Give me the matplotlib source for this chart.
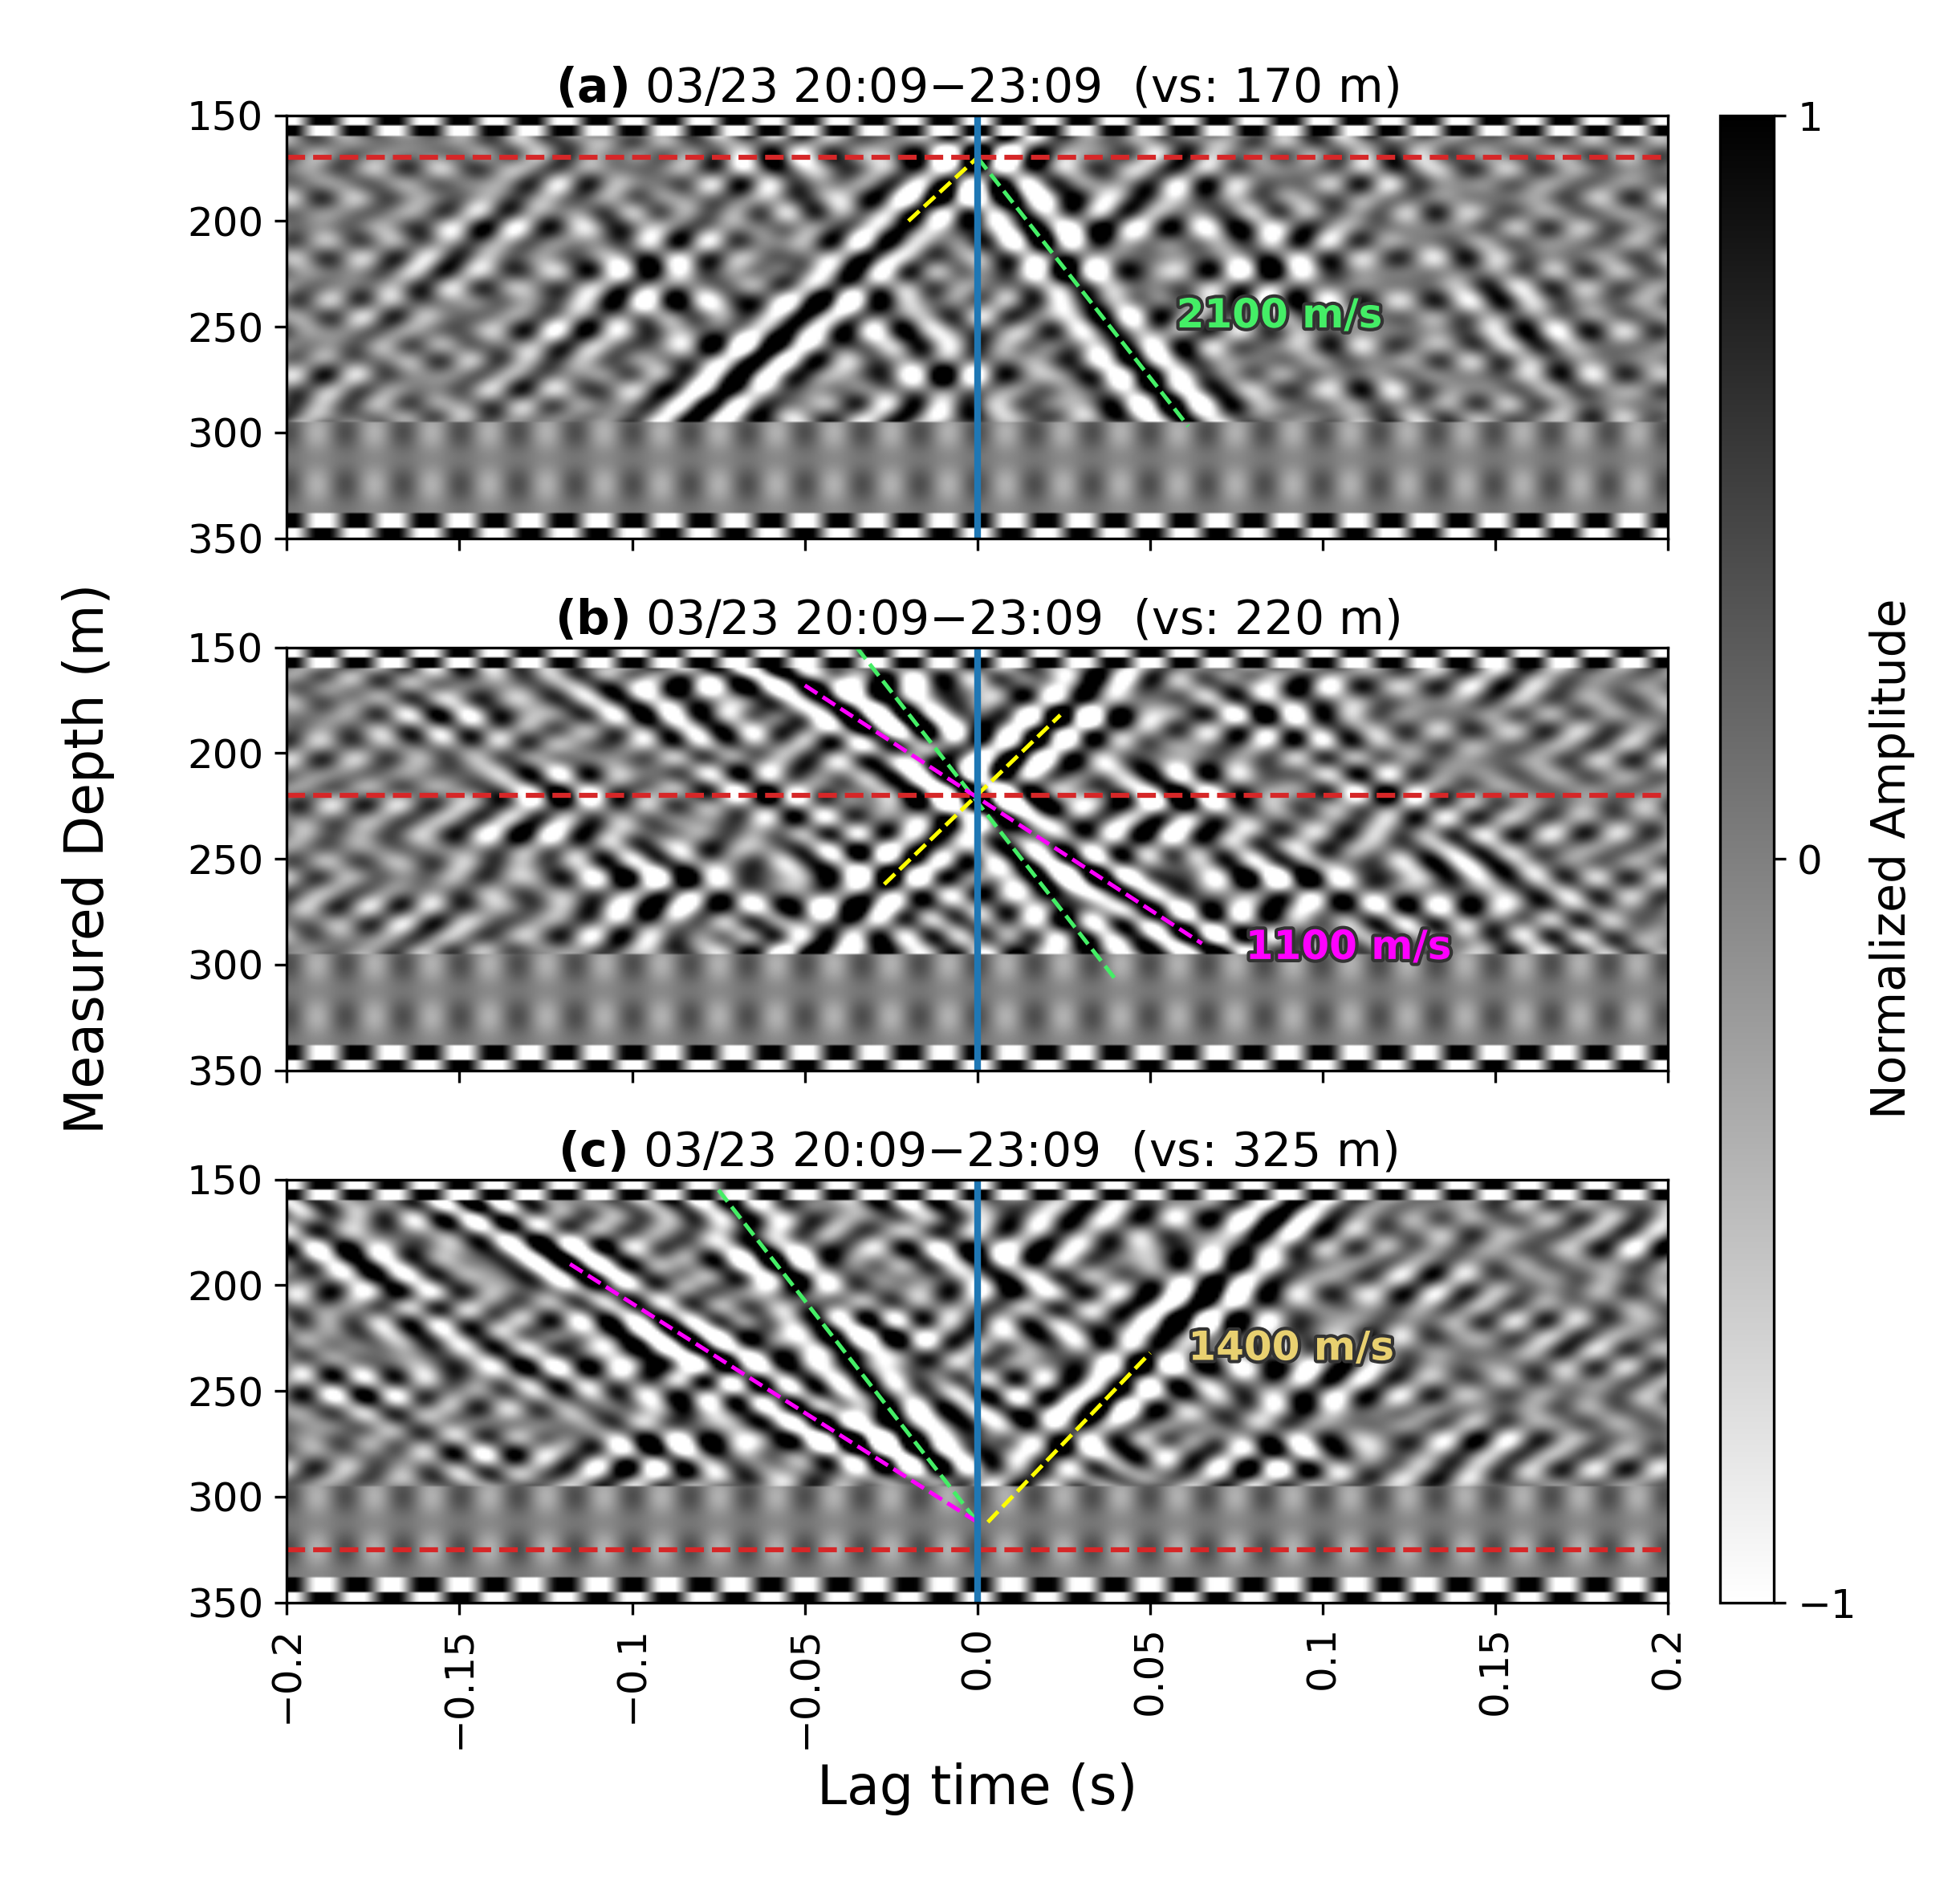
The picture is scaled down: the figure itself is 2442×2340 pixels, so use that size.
import numpy as np
import matplotlib
matplotlib.use("Agg")
import matplotlib.pyplot as plt
import matplotlib.patheffects as pe

titles_bold = ["(a)", "(b)", "(c)"]
title_rest = ["03/23 20:09\u221223:09  (vs: 170 m)",
              "03/23 20:09\u221223:09  (vs: 220 m)",
              "03/23 20:09\u221223:09  (vs: 325 m)"]
source_depths = [170, 220, 325]
# event lines per panel: (t0, z0, t1, z1, color)
lines_a = [(-0.02, 200, 0.0, 170, "yellow"), (0.0, 170, 0.061, 297, "#44ee66")]
lines_b = [(-0.035, 150, 0.04, 307, "#44ee66"), (-0.05, 168, 0.065, 290, "magenta"),
           (-0.027, 262, 0.024, 182, "yellow")]
lines_c = [(-0.075, 155, 0.0, 312, "#44ee66"), (-0.118, 190, 0.0, 312, "magenta"),
           (0.003, 312, 0.05, 232, "yellow")]
panel_lines = [lines_a, lines_b, lines_c]
labels = ["2100 m/s", "1100 m/s", "1400 m/s"]
label_pos = [(0.0576, 245), (0.0776, 292), (0.061, 230)]
label_col = ["#44ee66", "magenta", "#e8d070"]
xticks = [-0.2, -0.15, -0.1, -0.05, 0.0, 0.05, 0.1, 0.15, 0.2]
xticklabels = ["\u22120.2", "\u22120.15", "\u22120.1", "\u22120.05", "0.0", "0.05", "0.1", "0.15", "0.2"]

t = np.linspace(-0.2, 0.2, 400)
z = np.linspace(150, 350, 200)
T, Z = np.meshgrid(t, z)

def field(lines):
    f = 0.2 * np.cos(2*np.pi*45*T) * np.cos(2*np.pi*Z/14)
    for (t0, z0, t1, z1, c) in lines:
        s = (t1 - t0) / (z1 - z0)
        for sh, a in ((-0.12, 0.5), (-0.06, 0.6), (0.0, 1.2), (0.06, 0.6), (0.12, 0.5)):
            ph = T - (t0 + sh) - s*(Z - z0)
            f += a*np.cos(2*np.pi*55*ph) * np.exp(-(ph/0.02)**2) * (Z < 295)
        ph = T + s*(Z - z0) - t0
        f += 0.2*np.cos(2*np.pi*55*ph) * (Z < 295) * (Z > 160)
    edge = (Z < 160) | (Z > 338)
    f = np.where(edge, 1.2*np.cos(2*np.pi*50*T)*np.sign(np.cos(2*np.pi*Z/20)+0.2), f)
    f = np.where((Z > 295) & ~edge, 0.35*np.cos(2*np.pi*60*T)*(0.6+0.4*np.cos(2*np.pi*Z/25)), f)
    return np.clip(1.1*f, -1, 1)

fig = plt.figure(figsize=(2442/300, 2340/300), dpi=300)
W, H = 1558, 1500
tops = [92, 517, 942]
axes = []
for i in range(3):
    ax = fig.add_axes([228/W, 1-(tops[i]+338)/H, 1098/W, 338/H])
    im = ax.imshow(field(panel_lines[i]), cmap="gray_r", vmin=-1, vmax=1,
                   extent=[-0.2, 0.2, 350, 150], aspect="auto", interpolation="bilinear")
    ax.axhline(source_depths[i], color="tab:red", ls="--", lw=1.5)
    for (t0, z0, t1, z1, c) in panel_lines[i]:
        ax.plot([t0, t1], [z0, z1], color=c, ls="--", lw=1.2)
    ax.axvline(0, color="tab:blue", lw=2)
    ax.text(label_pos[i][0], label_pos[i][1], labels[i], color=label_col[i], fontsize=12,
            fontweight="bold", va="center",
            path_effects=[pe.withStroke(linewidth=2, foreground="#333333")])
    ax.set_xlim(-0.2, 0.2); ax.set_ylim(350, 150)
    ax.set_yticks([150, 200, 250, 300, 350])
    ax.set_xticks(xticks)
    ax.tick_params(labelsize=12)
    if i < 2:
        ax.set_xticklabels([])
    else:
        ax.set_xticklabels(xticklabels, rotation=90)
    ax.set_title(r"$\bf{" + titles_bold[i] + "}$ " + title_rest[i], fontsize=14, pad=4)
    axes.append(ax)

axes[2].set_xlabel("Lag time (s)", fontsize=16)
fig.text(0.045, 1-686/H, "Measured Depth (m)", rotation=90, fontsize=16, va="center", ha="center")
cax = fig.add_axes([1367/W, 1-1280/H, 43/W, 1188/H])
cb = fig.colorbar(im, cax=cax, ticks=[-1, 0, 1])
cb.ax.set_yticklabels(["\u22121", "0", "1"])
cb.ax.tick_params(labelsize=12)
cb.set_label("Normalized Amplitude", fontsize=14)
fig.savefig("out.png", dpi=300)
